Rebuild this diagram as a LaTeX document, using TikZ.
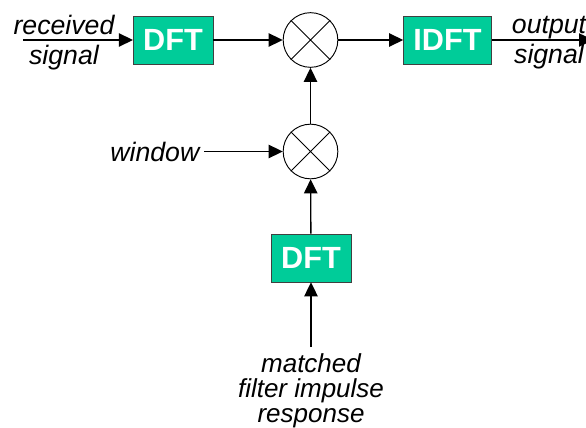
\documentclass[tikz,border=0pt]{standalone}
\usepackage{fontspec}
\setmainfont{Liberation Sans}
\usetikzlibrary{arrows.meta}
\definecolor{dftgreen}{RGB}{0,204,153}

\begin{document}
\begin{tikzpicture}[x=0.75pt,y=-0.75pt,
    block/.style={draw=black!75,fill=dftgreen,text=white,
      font=\bfseries\fontsize{23pt}{24pt}\selectfont,
      inner xsep=7.5pt,inner ysep=0pt,minimum height=36pt},
    mult/.style={circle,draw,line width=0.7pt,minimum size=41pt,inner sep=0pt},
    lbl/.style={font=\itshape\fontsize{20pt}{22.5pt}\selectfont,align=center},
    arr/.style={line width=1pt,-{Triangle[length=10.5pt,width=10pt]}}]

  \useasboundingbox (0,0) rectangle (586,428);

  % signal path
  \coordinate (in) at (23,40);
  \node[block] (dft1) at (173,40) {DFT};
  \node[mult] (m1) at (310.5,40) {};
  \node[block] (idft) at (447.5,40) {IDFT};
  \coordinate (out) at (593,40);

  % window and filter branch
  \node[mult] (m2) at (310.5,151.5) {};
  \node[block] (dft2) at (311,258) {DFT};

  % labels
  \node[lbl] (rx) at (64,43) {received\\signal};
  \node[lbl] (tx) at (549,43) {output\\signal};
  \node[lbl,anchor=east] (win) at (204,151.5) {window};
  \node[lbl,anchor=north,inner ysep=5pt,
    font=\itshape\fontsize{19.5pt}{18.8pt}\selectfont]
    (resp) at (311,347) {matched\\filter impulse\\response};

  \foreach \m in {m1,m2}
    \draw[line width=0.7pt] (\m.north west) -- (\m.south east)
      (\m.north east) -- (\m.south west);

  \draw[arr] (in) -- (dft1);
  \draw[arr] (dft1) -- (m1);
  \draw[arr] (m1) -- (idft);
  \draw[arr] (idft) -- (out);
  \draw[arr] (win) -- (m2);
  \draw[arr] (m2) -- (m1);
  \draw[arr] (dft2) -- (m2);
  \draw[arr] (resp) -- (dft2);

\end{tikzpicture}
\end{document}
